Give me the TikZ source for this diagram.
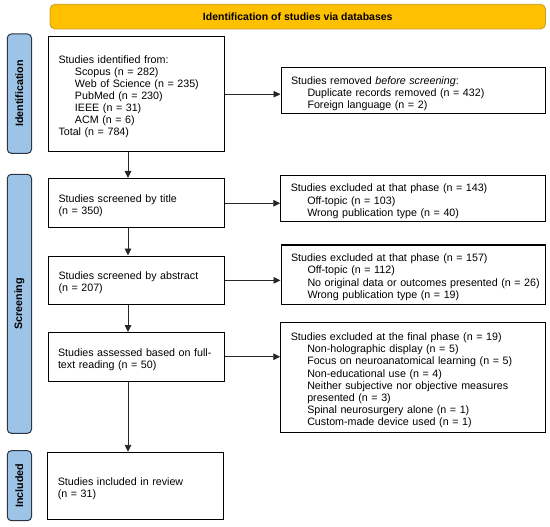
\documentclass[tikz,border=0pt]{standalone}
\usepackage{fontspec}
\setmainfont{Liberation Sans}
\usetikzlibrary{arrows.meta}
\definecolor{bannerfill}{HTML}{FFC000}
\definecolor{bannerdraw}{HTML}{C99A1E}
\definecolor{sidefill}{HTML}{9DC3E6}
\definecolor{sidedraw}{HTML}{2B3545}
\newcommand{\ind}{\hspace*{16.5pt}}
\tikzset{
  box/.style={draw=black, line width=1pt, rectangle, inner xsep=10pt, inner ysep=0pt,
    align=left, font=\fontsize{10.7}{12.1}\selectfont,
    execute at begin node={\rule{0pt}{13pt}}},
  lbox/.style={box, text width=156pt, minimum width=176pt},
  rbox/.style={box, text width=244.5pt, minimum width=264.5pt},
  sidebar/.style={draw=sidedraw, fill=sidefill, line width=1pt, rounded corners=4pt,
    minimum width=24.2pt, inner sep=0pt},
  sidetext/.style={rotate=90, font=\fontsize{10.7}{12.9}\selectfont\bfseries},
  banner/.style={draw=bannerdraw, fill=bannerfill, line width=0.8pt, rounded corners=5pt,
    minimum width=495.5pt, minimum height=24.7pt, inner sep=0pt,
    font=\fontsize{10.5}{12.6}\selectfont\bfseries},
  arr/.style={line width=0.9pt, draw=black!85, -{Triangle[length=7pt,width=6.5pt]}}
}
\begin{document}
\begin{tikzpicture}[x=1pt,y=-1pt]
\useasboundingbox (0,0) rectangle (550,527);
% banner
\node[banner] (ban) at (297.75,16.65) {Identification of studies via databases};
% side bars
\node[sidebar, minimum height=119.3pt] (sid) at (19.4,93.65) {};
\node[sidetext] (sidt) at (sid.center) {Identification};
\node[sidebar, minimum height=259pt] (sscr) at (19.4,303.8) {};
\node[sidetext] (sscrt) at (sscr.center) {Screening};
\node[sidebar, minimum height=70pt] (sinc) at (19.4,485.7) {};
\node[sidetext] (sinct) at (sinc.center) {Included};
% left boxes
\node[lbox, minimum height=115pt] (b1) at (136.5,94.2) {Studies identified from:\\
\ind Scopus (n = 282)\\
\ind Web of Science (n = 235)\\
\ind PubMed (n = 230)\\
\ind IEEE (n = 31)\\
\ind ACM (n = 6)\\
Total (n = 784)};
\node[lbox, minimum height=49.5pt] (b2) at (136.5,203.25) {Studies screened by title\\(n = 350)};
\node[lbox, minimum height=48.7pt] (b3) at (136.5,280.35) {Studies screened by abstract\\(n = 207)};
\node[lbox, minimum height=48.5pt] (b4) at (136,356.75) {Studies assessed based on full-\\text reading (n = 50)};
\node[lbox, minimum height=67pt] (b5) at (135.75,485.8) {Studies included in review\\(n = 31)};
% right boxes
\node[rbox, minimum height=46.5pt] (r1) at (413.25,90.75) {Studies removed \textit{before screening}:\\
\ind Duplicate records removed (n = 432)\\
\ind Foreign language (n = 2)};
\node[rbox, minimum height=46pt] (r2) at (413,198.7) {Studies excluded at that phase (n = 143)\\
\ind Off-topic (n = 103)\\
\ind Wrong publication type (n = 40)};
\node[rbox, minimum height=59.3pt] (r3) at (413.25,274.65) {Studies excluded at that phase (n = 157)\\
\ind Off-topic (n = 112)\\
\ind \mbox{No original data or outcomes presented (n = 26)}\\
\ind Wrong publication type (n = 19)};
\node[rbox, minimum height=110pt] (r4) at (413,377.7) {Studies excluded at the final phase (n = 19)\\
\ind Non-holographic display (n = 5)\\
\ind Focus on neuroanatomical learning (n = 5)\\
\ind Non-educational use (n = 4)\\
\ind Neither subjective nor objective measures\\
\ind presented (n = 3)\\
\ind Spinal neurosurgery alone (n = 1)\\
\ind Custom-made device used (n = 1)};
% connectors
\coordinate (ax) at (128,0);
\draw[arr] (b1.east) -- (b1.east -| r1.west);
\draw[arr] (b2.east) -- (b2.east -| r2.west);
\draw[arr] (b3.east) -- (b3.east -| r3.west);
\draw[arr] (b4.east) -- (b4.east -| r4.west);
\draw[arr] (b1.south -| ax) -- (b2.north -| ax);
\draw[arr] (b2.south -| ax) -- (b3.north -| ax);
\draw[arr] (b3.south -| ax) -- (b4.north -| ax);
\draw[arr] (b4.south -| ax) -- (b5.north -| ax);
\end{tikzpicture}
\end{document}
